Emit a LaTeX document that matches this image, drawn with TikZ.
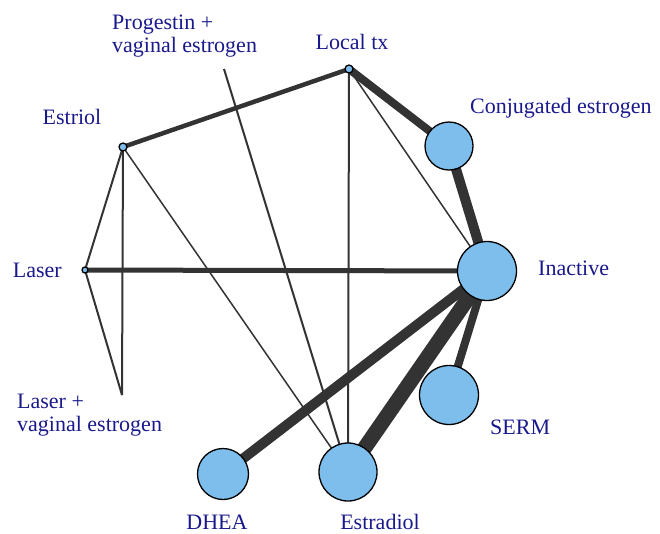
\documentclass[tikz,border=0pt]{standalone}
\usepackage{fontspec}
\setmainfont{Liberation Serif}
\usetikzlibrary{backgrounds}
\definecolor{lbl}{RGB}{25,25,140}
\definecolor{trt}{RGB}{125,190,236}
\definecolor{lnk}{RGB}{51,51,51}
\tikzset{
  trt/.style={circle, draw=black, fill=trt, line width=1.3pt, inner sep=0pt, minimum size=#1},
  lbl/.style={text=lbl, inner sep=0pt, font=\fontsize{22}{23}\selectfont},
  lnk/.style={draw=lnk, line width=#1}
}
\begin{document}
\begin{tikzpicture}[x=1pt, y=-1pt]
  \useasboundingbox (0,0) rectangle (660,533);
  % treatments
  \node[trt=8pt] (loc) at (349,69) {};
  \node[trt=48pt] (conj) at (449,146) {};
  \node[trt=59pt] (inact) at (487,271) {};
  \node[trt=59pt] (serm) at (449,395) {};
  \node[trt=58pt] (estra) at (348,472) {};
  \node[trt=51pt] (dhea) at (223,474) {};
  \node[trt=6pt] (laser) at (85,270) {};
  \node[trt=8pt] (estri) at (123,147) {};
  \coordinate (laserve) at (122,395);
  \coordinate (prog) at (224,69);
  % comparisons
  \begin{scope}[on background layer]
    \draw[lnk=4.5pt] (estri.center) -- (loc.center);
    \draw[lnk=8pt] (loc.center) -- (conj.center);
    \draw[lnk=1.5pt] (loc.center) -- (inact.center);
    \draw[lnk=2pt] (loc.center) -- (estra.center);
    \draw[lnk=10pt] (conj.center) -- (inact.center);
    \draw[lnk=2pt] (estri.center) -- (laser.center);
    \draw[lnk=2pt] (estri.center) -- (laserve);
    \draw[lnk=1.5pt] (estri.center) -- (estra.center);
    \draw[lnk=5pt] (laser.center) -- (inact.center);
    \draw[lnk=2pt] (laser.center) -- (laserve);
    \draw[lnk=2pt] (prog) -- (estra.center);
    \draw[lnk=10pt] (inact.center) -- (dhea.center);
    \draw[lnk=15pt] (inact.center) -- (estra.center);
    \draw[lnk=8pt] (inact.center) -- (serm.center);
  \end{scope}
  % labels
  \node[lbl, anchor=west, align=left] (progl) at (112,36) {Progestin +\\vaginal estrogen};
  \node[lbl] (locl) at (352,42) {Local tx};
  \node[lbl] (estril) at (72,117) {Estriol};
  \node[lbl, anchor=west] (conjl) at (470,108) {Conjugated estrogen};
  \node[lbl, anchor=west] (inactl) at (538,268) {Inactive};
  \node[lbl, anchor=east] (laserl) at (62,270) {Laser};
  \node[lbl, anchor=west, align=left] (laservel) at (17,415) {Laser +\\vaginal estrogen};
  \node[lbl, anchor=west] (serml) at (490,427) {SERM};
  \node[lbl] (dheal) at (217,522) {DHEA};
  \node[lbl] (estral) at (380,522) {Estradiol};
\end{tikzpicture}
\end{document}
